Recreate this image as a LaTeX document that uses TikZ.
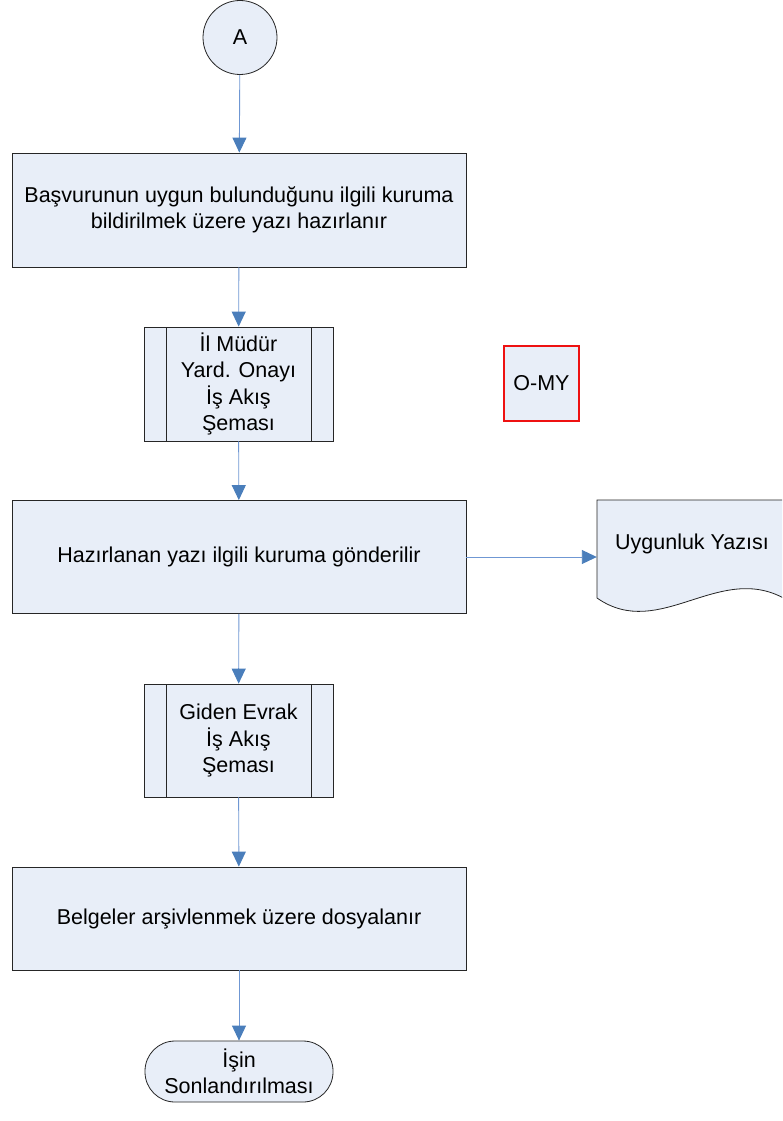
\documentclass[tikz,border=0pt]{standalone}
\usepackage{fontspec}
\setmainfont{Liberation Sans}
\usepackage{tikz}
\usetikzlibrary{%
	arrows.meta%
}
\definecolor{Boxfill}{HTML}{E8EEF8}
\definecolor{Linkblue}{HTML}{6F97D3}
\definecolor{Tipblue}{HTML}{4A7EBB}
\definecolor{Omyred}{HTML}{EE1111}

\tikzset{
	proc/.style={draw=black!85,fill=Boxfill,line width=0.8pt,minimum width=454pt,align=center},
	subproc/.style={proc,minimum width=189pt,minimum height=114pt,
		path picture={
			\draw [line width=0.8pt] ([xshift=22pt]path picture bounding box.north west) -- ([xshift=22pt]path picture bounding box.south west);
			\draw [line width=0.8pt] ([xshift=-22pt]path picture bounding box.north east) -- ([xshift=-22pt]path picture bounding box.south east);
		}},
	term/.style={proc,minimum width=188pt,minimum height=61pt,rounded corners=30pt},
	link/.style={draw=Linkblue,line width=0.9pt,-{Triangle[length=15pt,width=14pt,color=Tipblue]}}
}

\begin{document}
\begin{tikzpicture}[x=1pt,y=-1pt,font=\fontsize{21.5}{26.5}\selectfont]
\useasboundingbox (0,0) rectangle (782,1121);

\node (a) at (240,37.5) [proc,circle,minimum width=0pt,minimum size=74pt] {A};
\node (b1) at (239,210) [proc,minimum height=114pt] {Başvurunun uygun bulunduğunu ilgili kuruma\\bildirilmek üzere yazı hazırlanır};
\node (s1) at (238.5,384) [subproc] {İl Müdür\\Yard. Onayı\\İş Akış\\Şeması};
\node (b2) at (239,557) [proc,minimum height=113pt] {Hazırlanan yazı ilgili kuruma gönderilir};
\node (s2) at (238.5,740.5) [subproc,minimum height=113pt] {Giden Evrak\\İş Akış\\Şeması};
\node (b3) at (239,918.5) [proc,minimum height=103pt] {Belgeler arşivlenmek üzere dosyalanır};
\node (end) at (239,1071.5) [term] {İşin\\Sonlandırılması};

\node (omy) at (541.5,383.5) [draw=Omyred,fill=Boxfill,line width=2.6pt,minimum size=75pt] {O-MY};

% belge (sagda kesik)
\begin{scope}
\clip (0,0) rectangle (782,1121);
\draw [draw=black!85,fill=Boxfill,line width=0.8pt] (597,500) -- (787,500) -- (787,600)
	.. controls (720,560) and (660,642) .. (597,598) -- cycle;
\end{scope}
\node (doc) at (692,544) [minimum width=190pt,inner sep=0pt] {Uygunluk Yazısı};

\draw [link] (a) -- (b1);
\draw [link] (b1) -- (s1);
\draw [link] (s1) -- (b2);
\draw [link] (b2.east) -- (b2.east -| doc.west);
\draw [link] (b2) -- (s2);
\draw [link] (s2) -- (b3);
\draw [link] (b3) -- (end);
\end{tikzpicture}
\end{document}
